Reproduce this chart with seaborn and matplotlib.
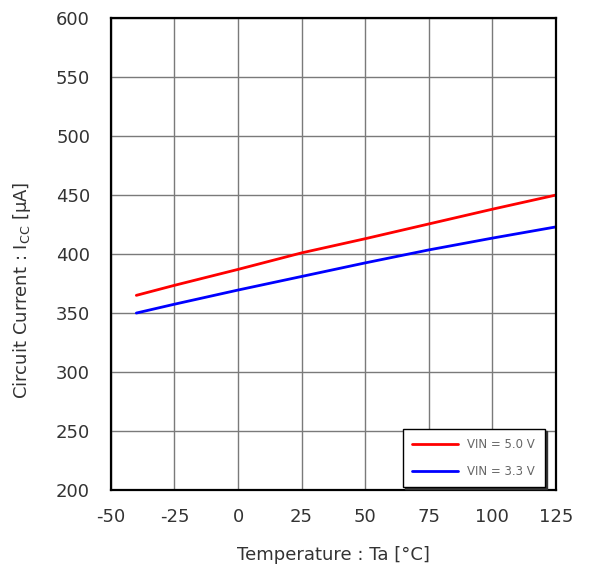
import matplotlib
matplotlib.use("Agg")
import matplotlib.pyplot as plt
import seaborn as sns
import pandas as pd

# Supply current vs. ambient temperature
temperature = [-40, -25, 0, 25, 50, 75, 100, 125]
icc_vin50 = [365, 373.5, 387, 401, 413, 425.5, 438, 450]
icc_vin33 = [350, 357.5, 369.5, 381, 392.5, 403.5, 413.5, 423]
series_names = ["VIN = 5.0 V", "VIN = 3.3 V"]
x_ticks = [-50, -25, 0, 25, 50, 75, 100, 125]
y_ticks = [200, 250, 300, 350, 400, 450, 500, 550, 600]

df = pd.concat([
    pd.DataFrame({"Ta": temperature, "Icc": icc_vin50, "cond": series_names[0]}),
    pd.DataFrame({"Ta": temperature, "Icc": icc_vin33, "cond": series_names[1]}),
])

sns.set_theme(style="white")
plt.rcParams["font.family"] = ["DejaVu Sans"]
plt.rcParams["axes.unicode_minus"] = False
text_color = "#333333"

fig = plt.figure(figsize=(5.9, 5.79), dpi=100)
ax = fig.add_axes([0.188, 0.1537, 0.754, 0.815])

sns.lineplot(data=df, x="Ta", y="Icc", hue="cond",
             palette={series_names[0]: "#ff0000", series_names[1]: "#0000ff"},
             linewidth=2, ax=ax)

ax.set_xlim(-50, 125)
ax.set_ylim(200, 600)
ax.set_xticks(x_ticks)
ax.set_yticks(y_ticks)
ax.grid(True, color="#7a7a7a", linewidth=1)
ax.set_axisbelow(True)
for s in ax.spines.values():
    s.set_color("black")
    s.set_linewidth(1.6)

ax.tick_params(axis="both", labelsize=13, colors=text_color, length=0)
ax.tick_params(axis="x", pad=13)
ax.tick_params(axis="y", pad=15)
ax.set_xlabel("Temperature : Ta [\u00b0C]", fontsize=13, color=text_color)
ax.set_ylabel("Circuit Current : I$_{\\mathregular{CC}}$ [\u03bcA]", fontsize=13,
              color=text_color)
ax.xaxis.set_label_coords(0.5, -0.138)
ax.xaxis.label.set_va("center")
ax.yaxis.set_label_coords(-0.2, 0.424)
ax.yaxis.label.set_va("center")

leg = ax.legend(loc="lower right", fontsize=8.5, frameon=True, fancybox=False,
                shadow={"color": "#333333", "alpha": 1.0, "ox": 1.5, "oy": -1.5},
                handlelength=3.9, handletextpad=0.8, labelspacing=1.15,
                borderpad=0.8, borderaxespad=0,
                bbox_to_anchor=(0.975, 0.006))
leg.get_frame().set_edgecolor("black")
leg.get_frame().set_linewidth(1.0)
for t in leg.get_texts():
    t.set_color("#666666")

fig.savefig("out.png", dpi=100)
